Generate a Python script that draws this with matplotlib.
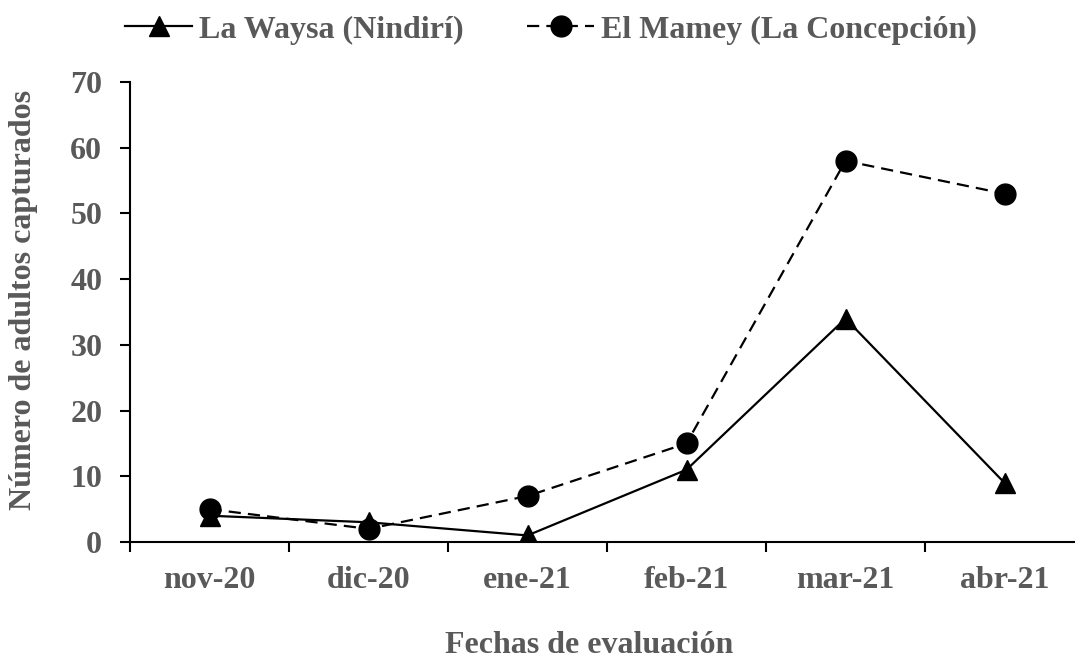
import matplotlib.pyplot as plt
import numpy as np

# data
meses = ['nov-20', 'dic-20', 'ene-21', 'feb-21', 'mar-21', 'abr-21']
la_waysa = [4, 3, 1, 11, 34, 9]
el_mamey = [5, 2, 7, 15, 58, 53]

gris = '#595959'
fs = 23
plt.rcParams['font.family'] = ['Liberation Serif', 'DejaVu Serif']
plt.rcParams['font.weight'] = 'bold'

fig = plt.figure(figsize=(10.75, 6.59), dpi=100)
ax = fig.add_axes([130/1075, 1-542/659, 954/1075, 460/659])

x = np.arange(len(meses))
ax.plot(x, la_waysa, 'k-', lw=1.6, marker='^', ms=15, label='La Waysa (Nindirí)')
ax.plot(x, el_mamey, 'k--', lw=1.6, marker='o', ms=15, dashes=(5.5, 3.2),
        label='El Mamey (La Concepción)')

ax.set_xlim(-0.5, len(meses) - 0.5)
ax.set_ylim(0, 70)
ax.set_yticks(np.arange(0, 71, 10))
ax.set_xticks(x)
ax.set_xticklabels(meses)
ax.set_xticks(np.arange(-0.5, len(meses), 1), minor=True)
ax.tick_params(axis='x', which='major', length=0, pad=17, labelsize=fs, labelcolor=gris)
ax.tick_params(axis='x', which='minor', length=7, width=1.5, direction='out')
ax.tick_params(axis='y', length=7, width=1.5, pad=13, labelsize=fs, labelcolor=gris)
for lab in ax.get_xticklabels() + ax.get_yticklabels():
    lab.set_fontweight('bold')

ax.spines['top'].set_visible(False)
ax.spines['right'].set_visible(False)
ax.spines['left'].set_linewidth(1.5)
ax.spines['bottom'].set_linewidth(1.5)

fig.text(24/1075, 1-300/659, 'Número de adultos capturados', fontsize=fs, fontweight='bold',
         color=gris, rotation=90, ha='center', va='center')
fig.text(589/1075, 1-653/659, 'Fechas de evaluación', fontsize=fs, fontweight='bold',
         color=gris, ha='center', va='baseline')

leg = fig.legend(loc='center', bbox_to_anchor=(551/1075, 1-30/659), ncol=2, frameon=False,
                 fontsize=fs, handlelength=2.1, handletextpad=0.2, columnspacing=2.0,
                 borderpad=0, borderaxespad=0)
for t in leg.get_texts():
    t.set_color(gris)
    t.set_fontweight('bold')

plt.savefig('out.png', dpi=100)
